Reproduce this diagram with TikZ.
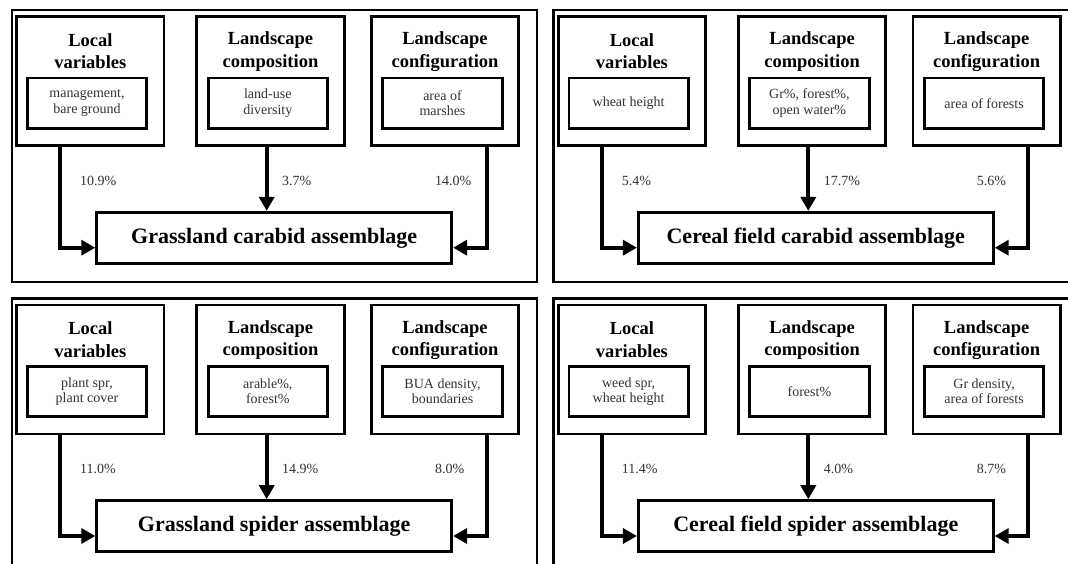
\documentclass[tikz,border=0pt]{standalone}
\usepackage{fontspec}
\setmainfont{Liberation Serif}
\usetikzlibrary{arrows.meta}
\tikzset{
  panelframe/.style={draw, line width=2.4pt},
  outerbox/.style={draw, line width=2.8pt, minimum width=147.3pt, minimum height=129pt, inner sep=0pt},
  innerbox/.style={draw, line width=2.8pt, minimum width=119.4pt, minimum height=50.3pt, inner sep=0pt,
    align=center, font=\fontsize{14}{15.3}\selectfont, text=black!80},
  titletext/.style={align=center, inner sep=0pt, font=\bfseries\fontsize{18.5}{22.3}\selectfont},
  mainbox/.style={draw, line width=2.8pt, minimum width=355pt, minimum height=51pt, inner sep=0pt,
    font=\bfseries\fontsize{22}{26}\selectfont},
  pct/.style={anchor=west, inner sep=0pt, font=\fontsize{14}{16}\selectfont, text=black!80},
  link/.style={line width=4pt, -{Triangle[length=14pt,width=15pt]}},
}
\newcommand\drawpanel[8]{%
  \draw[panelframe] (11.7,10) rectangle (536.7,281.7);
  \node[outerbox] (#1L) at (90.35,81.2) {};
  \node[outerbox] (#1C) at (270.5,81.2) {};
  \node[outerbox] (#1G) at (445,81.2) {};
  \node[titletext] (#1Lt) at (90.35,51.5) {Local\\variables};
  \node[titletext] (#1Ct) at (270.5,51.5) {Landscape\\composition};
  \node[titletext] (#1Gt) at (445,51.5) {Landscape\\configuration};
  \node[innerbox] (#1Li) at (87,103.2) {#2};
  \node[innerbox] (#1Ci) at (267.8,103.2) {#3};
  \node[innerbox] (#1Gi) at (442.5,103.2) {#4};
  \node[mainbox] (#1M) at (274.2,237.8) {#8};
  \draw[link] ([xshift=45pt]#1L.south west) |- ([yshift=-9.9pt]#1M.west);
  \draw[link] ([xshift=-3.8pt]#1C.south) -- ([xshift=-3.8pt]#1C.south |- #1M.north);
  \draw[link] ([xshift=-33.3pt]#1G.south east) |- ([yshift=-9.9pt]#1M.east);
  \node[pct] (#1pa) at (80,180.8) {#5};
  \node[pct] (#1pb) at (282,180.8) {#6};
  \node[pct] (#1pc) at (435,180.8) {#7};
}
\begin{document}
\begin{tikzpicture}[x=1pt,y=-1pt]
\useasboundingbox (0,0) rectangle (1068,564);
\fill[white] (0,0) rectangle (1068,564);
\clip (0,0) rectangle (1068,564);
\drawpanel{tl}{management,\\bare ground}{land-use\\diversity}{area of\\marshes}{10.9\%}{3.7\%}{14.0\%}{Grassland carabid assemblage}
\begin{scope}[shift={(541.6,0)}]
\drawpanel{tr}{wheat height}{Gr\%, forest\%,\\open water\%}{area of forests}{5.4\%}{17.7\%}{5.6\%}{Cereal field carabid assemblage}
\end{scope}
\begin{scope}[shift={(0,288.3)}]
\drawpanel{bl}{plant spr,\\plant cover}{arable\%,\\forest\%}{BUA density,\\boundaries}{11.0\%}{14.9\%}{8.0\%}{Grassland spider assemblage}
\end{scope}
\begin{scope}[shift={(541.6,288.3)}]
\drawpanel{br}{weed spr,\\wheat height}{forest\%}{Gr density,\\area of forests}{11.4\%}{4.0\%}{8.7\%}{Cereal field spider assemblage}
\end{scope}
\end{tikzpicture}
\end{document}
